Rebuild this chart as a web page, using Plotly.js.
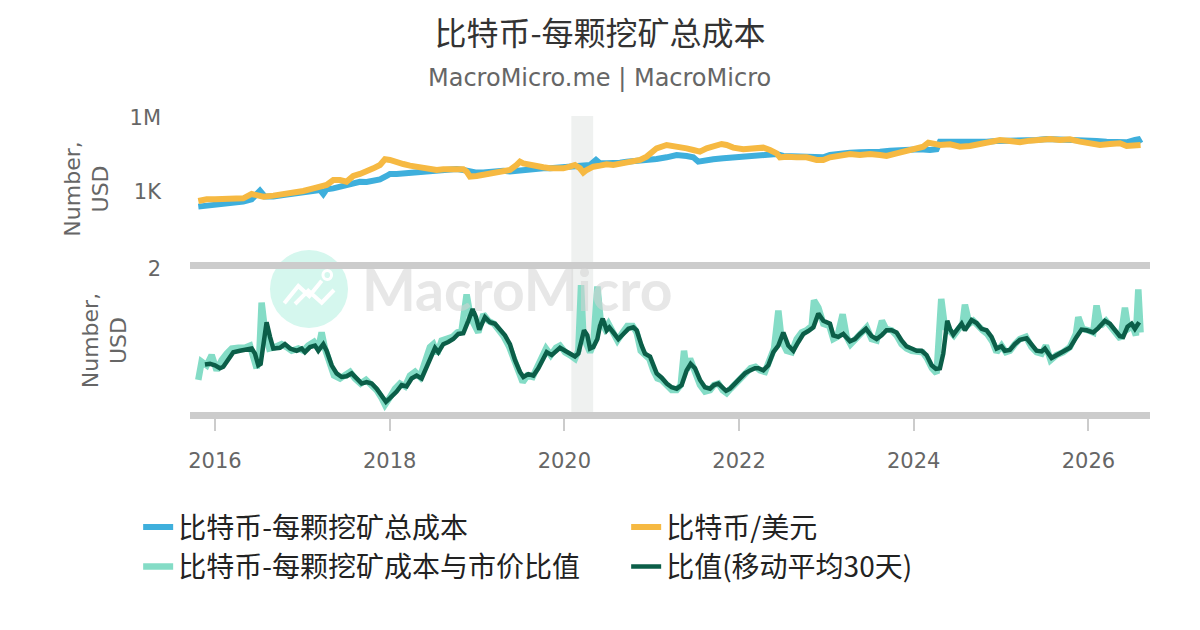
<!DOCTYPE html>
<html>
<head>
<meta charset="utf-8">
<script src="https://cdn.plot.ly/plotly-3.0.1.min.js"></script>
<style>body{margin:0;background:#fff}</style>
</head>
<body>
<div id="chart" style="width:1200px;height:630px"></div>
<script>
// values, x in decimal years

// 比特币-每颗挖矿总成本 (USD)
var costYears = [2015.809, 2015.905, 2016.0, 2016.095, 2016.21, 2016.324, 2016.42, 2016.515, 2016.572, 2016.668, 2016.782, 2016.897, 2017.011, 2017.126, 2017.202, 2017.24, 2017.278, 2017.355, 2017.431, 2017.507, 2017.584, 2017.66, 2017.736, 2017.813, 2017.889, 2017.965, 2018.003, 2018.08, 2018.156, 2018.232, 2018.309, 2018.385, 2018.461, 2018.538, 2018.614, 2018.69, 2018.767, 2018.843, 2018.919, 2018.996, 2019.072, 2019.148, 2019.225, 2019.301, 2019.377, 2019.454, 2019.53, 2019.606, 2019.682, 2019.759, 2019.835, 2019.911, 2019.988, 2020.064, 2020.14, 2020.217, 2020.293, 2020.362, 2020.408, 2020.484, 2020.56, 2020.637, 2020.713, 2020.789, 2020.866, 2020.942, 2021.056, 2021.171, 2021.285, 2021.4, 2021.476, 2021.533, 2021.591, 2021.705, 2021.82, 2021.934, 2022.048, 2022.163, 2022.277, 2022.354, 2022.43, 2022.506, 2022.621, 2022.735, 2022.85, 2022.964, 2023.041, 2023.155, 2023.27, 2023.384, 2023.499, 2023.613, 2023.728, 2023.842, 2023.957, 2024.071, 2024.186, 2024.262, 2024.3, 2024.376, 2024.491, 2024.605, 2024.72, 2024.834, 2024.949, 2025.063, 2025.178, 2025.292, 2025.407, 2025.521, 2025.636, 2025.75, 2025.865, 2025.979, 2026.094, 2026.208, 2026.323, 2026.437, 2026.533, 2026.571, 2026.597];
var costUsd = [254, 271, 297, 316, 347, 406, 505, 1130, 647, 647, 755, 883, 968, 1130, 1210, 830, 1280, 1400, 1640, 1920, 2240, 2600, 2550, 2780, 3250, 4450, 5400, 5400, 5700, 6100, 6500, 6900, 7300, 7800, 7800, 8300, 8550, 7800, 6700, 6100, 6100, 6500, 6900, 7300, 6700, 7300, 7800, 8300, 9100, 9100, 9100, 9700, 9100, 9700, 10600, 11300, 12400, 19800, 14500, 14500, 14500, 15400, 16900, 18000, 16900, 19800, 21700, 25400, 31600, 28800, 25400, 16900, 18600, 21100, 23200, 25400, 27000, 28800, 29700, 31600, 34700, 28800, 27000, 27000, 25400, 25400, 31600, 36900, 39300, 40500, 40500, 43100, 47300, 50400, 53600, 53600, 50400, 53600, 109600, 109600, 103000, 100000, 100000, 109600, 116700, 120500, 109600, 120500, 128000, 140600, 136000, 136000, 140600, 128000, 116700, 109600, 103000, 103000, 128000, 136000, 93800];

// 比特币/美元
var priceYears = [2015.809, 2015.905, 2016.0, 2016.095, 2016.21, 2016.324, 2016.42, 2016.477, 2016.553, 2016.668, 2016.782, 2016.897, 2017.011, 2017.126, 2017.202, 2017.278, 2017.355, 2017.431, 2017.507, 2017.584, 2017.66, 2017.736, 2017.813, 2017.889, 2017.946, 2018.003, 2018.08, 2018.156, 2018.232, 2018.309, 2018.385, 2018.461, 2018.538, 2018.614, 2018.69, 2018.767, 2018.843, 2018.881, 2018.919, 2018.996, 2019.072, 2019.148, 2019.225, 2019.301, 2019.377, 2019.454, 2019.492, 2019.53, 2019.606, 2019.682, 2019.759, 2019.835, 2019.911, 2019.988, 2020.064, 2020.121, 2020.179, 2020.217, 2020.255, 2020.331, 2020.408, 2020.484, 2020.56, 2020.637, 2020.713, 2020.789, 2020.866, 2020.942, 2021.018, 2021.056, 2021.171, 2021.285, 2021.4, 2021.476, 2021.552, 2021.629, 2021.743, 2021.8, 2021.858, 2021.934, 2022.048, 2022.163, 2022.277, 2022.354, 2022.43, 2022.468, 2022.545, 2022.659, 2022.774, 2022.888, 2022.964, 2023.041, 2023.155, 2023.27, 2023.384, 2023.499, 2023.613, 2023.689, 2023.804, 2023.918, 2024.033, 2024.109, 2024.167, 2024.224, 2024.3, 2024.415, 2024.529, 2024.643, 2024.758, 2024.872, 2024.987, 2025.101, 2025.216, 2025.33, 2025.445, 2025.559, 2025.674, 2025.788, 2025.903, 2026.017, 2026.132, 2026.246, 2026.361, 2026.437, 2026.513, 2026.597];
var priceUsd = [432, 505, 505, 520, 520, 553, 830, 755, 647, 710, 804, 940, 1100, 1410, 1550, 1920, 3060, 3060, 2620, 4450, 5400, 6700, 9100, 12400, 21100, 19800, 15400, 13600, 11700, 10600, 9100, 8300, 7800, 8300, 8550, 8550, 8300, 6700, 4200, 4450, 4900, 5400, 6100, 7300, 7800, 12400, 16900, 14500, 12400, 11300, 10000, 9100, 8550, 9100, 10600, 12400, 9100, 6100, 7800, 10600, 11700, 13200, 12400, 13600, 15400, 16900, 19800, 27000, 43100, 58800, 80300, 73100, 58800, 50400, 43100, 58800, 80300, 88200, 80300, 62600, 53600, 58800, 62600, 50400, 36900, 25400, 27000, 25400, 25400, 19800, 19800, 25400, 31600, 34700, 31600, 34700, 31600, 28800, 36900, 45900, 53600, 68700, 100000, 93800, 80300, 85500, 68700, 73100, 88200, 109600, 128000, 116700, 103000, 120500, 128000, 140600, 128000, 136000, 109600, 88200, 80300, 88200, 93800, 73100, 75500, 80300];

// 比特币-每颗挖矿成本与市价比值
var ratioYears = [2015.809, 2015.847, 2015.905, 2015.962, 2016.019, 2016.076, 2016.134, 2016.191, 2016.267, 2016.343, 2016.401, 2016.446, 2016.477, 2016.508, 2016.534, 2016.572, 2016.622, 2016.687, 2016.763, 2016.82, 2016.878, 2016.954, 2017.011, 2017.068, 2017.133, 2017.183, 2017.221, 2017.259, 2017.309, 2017.362, 2017.431, 2017.5, 2017.546, 2017.603, 2017.668, 2017.729, 2017.794, 2017.851, 2017.908, 2017.946, 2017.996, 2018.061, 2018.118, 2018.175, 2018.232, 2018.29, 2018.347, 2018.404, 2018.461, 2018.5, 2018.545, 2018.595, 2018.66, 2018.721, 2018.774, 2018.824, 2018.881, 2018.927, 2018.977, 2019.015, 2019.072, 2019.129, 2019.194, 2019.255, 2019.309, 2019.37, 2019.416, 2019.473, 2019.523, 2019.576, 2019.637, 2019.691, 2019.744, 2019.79, 2019.844, 2019.905, 2019.95, 2020.008, 2020.065, 2020.122, 2020.16, 2020.191, 2020.218, 2020.256, 2020.294, 2020.332, 2020.378, 2020.416, 2020.466, 2020.504, 2020.553, 2020.607, 2020.668, 2020.721, 2020.782, 2020.828, 2020.874, 2020.923, 2020.973, 2021.019, 2021.065, 2021.114, 2021.172, 2021.229, 2021.286, 2021.332, 2021.37, 2021.4, 2021.439, 2021.496, 2021.553, 2021.61, 2021.668, 2021.713, 2021.763, 2021.813, 2021.858, 2021.904, 2021.965, 2022.019, 2022.08, 2022.133, 2022.187, 2022.24, 2022.297, 2022.355, 2022.401, 2022.45, 2022.488, 2022.545, 2022.603, 2022.66, 2022.717, 2022.774, 2022.832, 2022.858, 2022.908, 2022.965, 2023.034, 2023.079, 2023.125, 2023.186, 2023.232, 2023.277, 2023.339, 2023.403, 2023.461, 2023.518, 2023.575, 2023.636, 2023.682, 2023.747, 2023.804, 2023.861, 2023.918, 2023.976, 2024.04, 2024.102, 2024.155, 2024.208, 2024.262, 2024.315, 2024.357, 2024.407, 2024.46, 2024.51, 2024.559, 2024.586, 2024.636, 2024.682, 2024.728, 2024.789, 2024.842, 2024.903, 2024.948, 2025.005, 2025.055, 2025.101, 2025.158, 2025.215, 2025.284, 2025.349, 2025.406, 2025.464, 2025.513, 2025.567, 2025.635, 2025.711, 2025.788, 2025.857, 2025.884, 2025.933, 2025.998, 2026.055, 2026.093, 2026.139, 2026.2, 2026.254, 2026.315, 2026.368, 2026.418, 2026.456, 2026.506, 2026.544, 2026.571, 2026.597];
var ratioRaw = [0.48, 0.73, 0.68, 0.82, 0.61, 0.75, 0.84, 0.91, 0.92, 0.92, 0.95, 0.77, 0.64, 0.84, 1.54, 1.16, 0.91, 0.93, 0.97, 0.93, 0.88, 0.91, 0.88, 0.95, 1.00, 0.91, 1.13, 0.91, 0.70, 0.54, 0.50, 0.56, 0.59, 0.50, 0.43, 0.48, 0.41, 0.34, 0.23, 0.14, 0.23, 0.36, 0.43, 0.39, 0.54, 0.59, 0.52, 0.73, 0.93, 0.97, 0.84, 1.02, 1.04, 1.07, 1.13, 1.16, 1.65, 1.34, 1.22, 1.13, 1.38, 1.29, 1.25, 1.16, 1.07, 0.93, 0.77, 0.57, 0.45, 0.54, 0.52, 0.66, 0.82, 0.91, 0.82, 0.92, 0.95, 0.86, 0.82, 0.77, 0.88, 1.78, 1.07, 0.95, 0.86, 0.97, 1.76, 1.29, 1.18, 1.25, 1.13, 1.02, 1.13, 1.22, 1.22, 1.13, 0.88, 0.82, 0.77, 0.61, 0.50, 0.48, 0.41, 0.34, 0.34, 0.41, 0.88, 0.61, 0.77, 0.57, 0.41, 0.32, 0.34, 0.41, 0.43, 0.34, 0.30, 0.36, 0.43, 0.52, 0.59, 0.64, 0.66, 0.61, 0.59, 0.75, 0.91, 1.43, 1.02, 0.88, 0.86, 1.04, 1.13, 1.16, 1.22, 1.57, 1.47, 1.25, 1.22, 1.04, 1.07, 1.38, 1.07, 0.97, 1.04, 1.13, 1.20, 1.04, 1.02, 1.29, 1.18, 1.16, 1.09, 0.97, 0.91, 0.88, 0.86, 0.86, 0.77, 0.64, 0.57, 1.59, 1.20, 1.16, 1.09, 1.18, 1.25, 1.51, 1.25, 1.29, 1.22, 1.16, 1.11, 1.00, 0.86, 0.95, 0.86, 0.88, 0.97, 1.04, 1.07, 0.93, 0.86, 0.84, 0.95, 0.75, 0.82, 0.86, 0.93, 1.11, 1.34, 1.18, 1.16, 1.13, 1.50, 1.22, 1.29, 1.20, 1.11, 1.04, 1.47, 1.18, 1.22, 1.09, 1.72, 1.13];

// 比值(移动平均30天)
var maYears = [2015.885, 2015.943, 2016.0, 2016.057, 2016.095, 2016.153, 2016.21, 2016.286, 2016.363, 2016.42, 2016.458, 2016.496, 2016.523, 2016.561, 2016.591, 2016.63, 2016.668, 2016.744, 2016.801, 2016.859, 2016.935, 2016.992, 2017.03, 2017.088, 2017.145, 2017.183, 2017.24, 2017.278, 2017.336, 2017.393, 2017.45, 2017.507, 2017.565, 2017.622, 2017.679, 2017.736, 2017.794, 2017.851, 2017.908, 2017.958, 2018.003, 2018.08, 2018.137, 2018.194, 2018.251, 2018.309, 2018.366, 2018.423, 2018.48, 2018.519, 2018.557, 2018.614, 2018.671, 2018.728, 2018.786, 2018.843, 2018.9, 2018.95, 2018.988, 2019.026, 2019.091, 2019.148, 2019.206, 2019.263, 2019.32, 2019.377, 2019.435, 2019.492, 2019.531, 2019.588, 2019.645, 2019.702, 2019.76, 2019.798, 2019.855, 2019.912, 2019.95, 2020.008, 2020.065, 2020.122, 2020.16, 2020.198, 2020.225, 2020.263, 2020.294, 2020.332, 2020.378, 2020.408, 2020.439, 2020.485, 2020.515, 2020.561, 2020.618, 2020.675, 2020.733, 2020.79, 2020.828, 2020.885, 2020.923, 2020.981, 2021.019, 2021.057, 2021.114, 2021.172, 2021.229, 2021.286, 2021.343, 2021.4, 2021.446, 2021.496, 2021.553, 2021.61, 2021.668, 2021.713, 2021.763, 2021.801, 2021.851, 2021.897, 2021.954, 2022.011, 2022.068, 2022.126, 2022.183, 2022.221, 2022.278, 2022.335, 2022.393, 2022.45, 2022.507, 2022.564, 2022.622, 2022.679, 2022.736, 2022.793, 2022.851, 2022.908, 2022.965, 2023.041, 2023.079, 2023.136, 2023.193, 2023.27, 2023.327, 2023.384, 2023.453, 2023.518, 2023.575, 2023.632, 2023.689, 2023.746, 2023.804, 2023.861, 2023.918, 2023.976, 2024.033, 2024.09, 2024.147, 2024.205, 2024.254, 2024.3, 2024.338, 2024.384, 2024.415, 2024.453, 2024.51, 2024.548, 2024.586, 2024.662, 2024.72, 2024.777, 2024.834, 2024.891, 2024.948, 2025.005, 2025.043, 2025.101, 2025.158, 2025.215, 2025.292, 2025.349, 2025.406, 2025.464, 2025.502, 2025.578, 2025.635, 2025.711, 2025.788, 2025.864, 2025.921, 2025.979, 2026.055, 2026.112, 2026.189, 2026.246, 2026.303, 2026.36, 2026.398, 2026.448, 2026.494, 2026.532, 2026.581];
var ratioMA = [0.69, 0.70, 0.68, 0.64, 0.66, 0.77, 0.86, 0.88, 0.89, 0.91, 0.84, 0.68, 0.70, 1.07, 1.27, 1.07, 0.91, 0.92, 0.97, 0.91, 0.88, 0.91, 0.86, 0.93, 0.95, 0.88, 0.97, 0.88, 0.68, 0.57, 0.52, 0.53, 0.57, 0.50, 0.43, 0.45, 0.43, 0.36, 0.27, 0.18, 0.23, 0.32, 0.41, 0.39, 0.50, 0.54, 0.50, 0.66, 0.84, 0.92, 0.86, 0.97, 1.00, 1.04, 1.11, 1.12, 1.29, 1.45, 1.34, 1.17, 1.34, 1.27, 1.25, 1.18, 1.09, 0.97, 0.75, 0.59, 0.52, 0.56, 0.54, 0.64, 0.77, 0.86, 0.82, 0.88, 0.92, 0.88, 0.84, 0.80, 0.84, 1.00, 1.16, 1.09, 0.91, 0.93, 1.04, 1.22, 1.32, 1.16, 1.20, 1.13, 1.04, 1.11, 1.18, 1.20, 1.16, 0.95, 0.84, 0.80, 0.68, 0.57, 0.51, 0.43, 0.38, 0.36, 0.41, 0.61, 0.70, 0.64, 0.48, 0.38, 0.36, 0.41, 0.43, 0.39, 0.33, 0.36, 0.43, 0.50, 0.57, 0.61, 0.64, 0.64, 0.61, 0.68, 0.86, 0.95, 1.13, 0.95, 0.88, 1.00, 1.11, 1.15, 1.20, 1.39, 1.29, 1.25, 1.09, 1.07, 1.11, 1.01, 1.04, 1.11, 1.18, 1.08, 1.04, 1.09, 1.16, 1.16, 1.13, 1.02, 0.94, 0.91, 0.88, 0.88, 0.82, 0.68, 0.63, 0.64, 0.84, 1.29, 1.18, 1.10, 1.19, 1.25, 1.16, 1.30, 1.26, 1.18, 1.16, 1.07, 0.91, 0.94, 0.88, 0.89, 0.97, 1.03, 1.05, 0.97, 0.88, 0.87, 0.91, 0.78, 0.82, 0.86, 0.92, 1.07, 1.17, 1.16, 1.13, 1.19, 1.29, 1.25, 1.16, 1.08, 1.07, 1.21, 1.25, 1.18, 1.27];

var yearTicks = [2016, 2018, 2020, 2022, 2024, 2026];
var recession = [2020.08, 2020.33];
var xRange = [2015.714, 2026.705];

var cjk = 'Noto Sans CJK SC, DejaVu Sans, sans-serif';
var latin = 'DejaVu Sans, Noto Sans CJK SC, sans-serif';

var Cost = {
    x: costYears,
    y: costUsd,
    name: '比特币-每颗挖矿总成本',
    type: 'scatter',
    mode: 'lines',
    line: { color: '#3eafdc', width: 6 },
    xaxis: 'x',
    yaxis: 'y'
};

var Price = {
    x: priceYears,
    y: priceUsd,
    name: '比特币/美元',
    type: 'scatter',
    mode: 'lines',
    line: { color: '#f6b942', width: 6 },
    xaxis: 'x',
    yaxis: 'y'
};

var Ratio = {
    x: ratioYears,
    y: ratioRaw,
    name: '比特币-每颗挖矿成本与市价比值',
    type: 'scatter',
    mode: 'lines',
    line: { color: '#84dcc6', width: 6.5 },
    xaxis: 'x2',
    yaxis: 'y2'
};

var RatioMA = {
    x: maYears,
    y: ratioMA,
    name: '比值(移动平均30天)',
    type: 'scatter',
    mode: 'lines',
    line: { color: '#0b5e48', width: 4.5 },
    xaxis: 'x2',
    yaxis: 'y2'
};

var graphdata = [Cost, Price, Ratio, RatioMA];

var layout = {
    width: 1200,
    height: 630,
    margin: { l: 190, r: 50, t: 116, b: 218 },
    paper_bgcolor: '#fff',
    plot_bgcolor: '#fff',
    font: { family: latin, color: '#666' },
    title: {
        text: '比特币-每颗挖矿总成本',
        font: { family: cjk, size: 32, color: '#333' },
        xref: 'container', x: 0.5,
        yref: 'container', y: 0.946, yanchor: 'middle'
    },
    showlegend: true,
    legend: {
        orientation: 'h',
        x: -0.054, xanchor: 'left',
        y: -0.305, yanchor: 'top',
        entrywidth: 443,
        font: { family: cjk, size: 28, color: '#222' },
        traceorder: 'normal'
    },
    xaxis: {
        domain: [0, 1],
        anchor: 'y',
        range: xRange,
        showticklabels: false,
        ticks: '',
        showgrid: false,
        zeroline: false,
        showline: true,
        linecolor: '#cccccc',
        linewidth: 7
    },
    yaxis: {
        domain: [0.507, 1],
        anchor: 'x',
        type: 'log',
        range: [0.163, 6.08],
        tickvals: [1000, 1000000],
        ticktext: ['1K', '1M'],
        tickfont: { size: 21, color: '#666' },
        ticklabelstandoff: 28,
        showgrid: false,
        zeroline: false,
        title: { text: 'Number,<br>USD', font: { size: 22, color: '#666' }, standoff: 14 }
    },
    xaxis2: {
        domain: [0, 1],
        anchor: 'y2',
        range: xRange,
        tickvals: yearTicks,
        ticks: 'outside',
        ticklen: 12,
        tickwidth: 2,
        tickcolor: '#cccccc',
        ticklabelstandoff: 12,
        tickfont: { size: 21, color: '#666' },
        showgrid: false,
        zeroline: false,
        showline: true,
        linecolor: '#cccccc',
        linewidth: 7
    },
    yaxis2: {
        domain: [0, 0.483],
        anchor: 'x2',
        range: [0.04, 2],
        tickvals: [2],
        tickfont: { size: 21, color: '#666' },
        ticklabelstandoff: 28,
        showgrid: false,
        zeroline: false,
        title: { text: 'Number,<br>USD', font: { size: 22, color: '#666' }, standoff: 14 }
    },
    shapes: [
        // shaded period across both panels
        {
            type: 'rect', layer: 'below',
            xref: 'x2', yref: 'paper',
            x0: recession[0], x1: recession[1], y0: 0, y1: 1,
            fillcolor: '#eff1f0', line: { width: 0 }
        },
        // watermark logo
        {
            type: 'circle', layer: 'below',
            xref: 'paper', yref: 'paper',
            x0: 0.0833, x1: 0.1646, y0: 0.2838, y1: 0.5473,
            fillcolor: '#d5f7ee', line: { width: 0 }
        },
        {
            type: 'path', layer: 'below',
            xref: 'paper', yref: 'paper',
            path: 'M 0.0982 0.3672 L 0.1128 0.4257 L 0.1243 0.3919 L 0.1372 0.4436 M 0.1094 0.3649 L 0.1232 0.4098 L 0.1372 0.3693 L 0.15 0.4122',
            line: { color: '#ffffff', width: 4 }
        },
        {
            type: 'circle', layer: 'below',
            xref: 'paper', yref: 'paper',
            x0: 0.1385, x1: 0.1475, y0: 0.4475, y1: 0.478,
            fillcolor: 'rgba(0,0,0,0)', line: { color: '#ffffff', width: 3 }
        }
    ],
    annotations: [
        {
            text: 'MacroMicro.me | MacroMicro',
            xref: 'paper', yref: 'paper',
            x: 0.427, y: 1.128, xanchor: 'center', yanchor: 'middle',
            showarrow: false,
            font: { family: latin, size: 24, color: '#666' }
        },
        {
            text: '<b>MacroMicro</b>',
            xref: 'paper', yref: 'paper',
            x: 0.3406, y: 0.4155, xanchor: 'center', yanchor: 'middle',
            showarrow: false,
            font: { family: 'Lato, sans-serif', size: 57, color: 'rgba(212,212,212,0.55)' }
        }
    ]
};

Plotly.newPlot('chart', graphdata, layout, { displayModeBar: false, staticPlot: true });
</script>
</body>
</html>
